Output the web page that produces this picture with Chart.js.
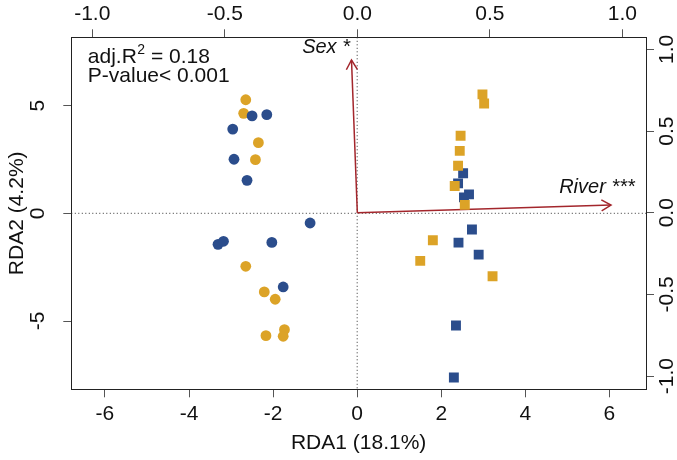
<!DOCTYPE html>
<html><head><meta charset="utf-8">
<script src="https://cdn.jsdelivr.net/npm/chart.js@4.4.1/dist/chart.umd.min.js"></script>
<style>html,body{margin:0;padding:0;background:#fff;} #c{display:block;}</style>
</head><body>
<canvas id="c" width="677" height="460"></canvas>
<script>
// ---- tick labels ----
const rda1Ticks = [-6, -4, -2, 0, 2, 4, 6];
const rda2Ticks = [-5, 0, 5];
const biplotXTicks = [-1.0, -0.5, 0.0, 0.5, 1.0];
const biplotYTicks = [-1.0, -0.5, 0.0, 0.5, 1.0];

// ---- site scores (RDA1, RDA2) ----
const blueCircles = [
  [-2.50, 4.52], [-2.15, 4.58], [-2.96, 3.91], [-2.93, 2.51], [-2.62, 1.53],
  [-1.12, -0.45], [-3.31, -1.44], [-3.18, -1.30], [-2.03, -1.35], [-1.76, -3.42]
];
const goldCircles = [
  [-2.65, 5.27], [-2.70, 4.64], [-2.35, 3.28], [-2.42, 2.49],
  [-2.65, -2.46], [-2.21, -3.65], [-1.95, -3.99], [-1.73, -5.40], [-1.76, -5.71], [-2.17, -5.68]
];
const goldSquares = [
  [2.98, 5.52], [3.02, 5.10], [2.46, 3.60], [2.44, 2.90], [2.40, 2.21],
  [2.32, 1.27], [2.56, 0.39], [1.80, -1.25], [1.50, -2.21], [3.22, -2.92]
];
const blueSquares = [
  [2.52, 1.86], [2.40, 1.39], [2.66, 0.88], [2.54, 0.74], [2.73, -0.75],
  [2.41, -1.36], [2.89, -1.92], [2.35, -5.21], [2.30, -7.62]
];

// ---- biplot arrows (top / right axis units) ----
const arrowNames = ['Sex *', 'River ***'];
const arrowTips = [[-0.022, 0.935], [0.957, 0.047]];
const arrowLabelAt = [[-0.118, 1.010], [0.904, 0.152]];

const statR2 = ['adj.R', '2', ' = 0.18'];
const statP = 'P-value< 0.001';

// ---- styles ----
const FONT = "'Liberation Sans', Arial, Helvetica, sans-serif";
const BLUE = '#2B4D8C';
const GOLD = '#DCA327';
const ARROW = '#A3262C';

const toPts = a => a.map(p => ({x: p[0], y: p[1]}));

function setTicks(list) { return s => { s.ticks = list.map(v => ({value: v})); }; }

const axisCommon = {
  type: 'linear',
  grid: {drawOnChartArea: false, drawTicks: true, tickLength: 8, tickColor: '#555', tickWidth: 1},
  border: {display: true, color: '#222', width: 1}
};

const plugin = {
  id: 'rdaExtras',
  beforeDatasetsDraw(chart) {
    const {ctx, chartArea: a, scales} = chart;
    ctx.save();
    ctx.strokeStyle = '#333';
    ctx.lineWidth = 1;
    ctx.setLineDash([1, 2.5]);
    const x0 = scales.x.getPixelForValue(0);
    const y0 = scales.y.getPixelForValue(0);
    ctx.beginPath();
    ctx.moveTo(x0, a.top); ctx.lineTo(x0, a.bottom);
    ctx.moveTo(a.left, y0); ctx.lineTo(a.right, y0);
    ctx.stroke();
    ctx.restore();
  },
  afterDraw(chart) {
    const {ctx, chartArea: a, scales} = chart;
    ctx.save();
    // rotated tick labels on vertical axes
    ctx.fillStyle = '#111';
    ctx.font = '21px ' + FONT;
    ctx.textAlign = 'center';
    ctx.textBaseline = 'middle';
    const drawV = (scale, x, fmt) => {
      scale.ticks.forEach(t => {
        const y = scale.getPixelForValue(t.value);
        ctx.save();
        ctx.translate(x, y);
        ctx.rotate(-Math.PI / 2);
        ctx.fillText(fmt(t.value), 0, 0);
        ctx.restore();
      });
    };
    drawV(scales.y, a.left - 33, v => String(v));
    drawV(scales.y2, a.right + 21, v => v.toFixed(1));

    // arrowheads
    ctx.strokeStyle = ARROW;
    ctx.lineWidth = 1.5;
    const sx = scales.x2, sy = scales.y2;
    arrowTips.forEach(tp => {
      const x0 = sx.getPixelForValue(0), y0 = sy.getPixelForValue(0);
      const x1 = sx.getPixelForValue(tp[0]), y1 = sy.getPixelForValue(tp[1]);
      const ang = Math.atan2(y1 - y0, x1 - x0);
      const L = 11, w = Math.PI / 6;
      ctx.beginPath();
      ctx.moveTo(x1 - L * Math.cos(ang - w), y1 - L * Math.sin(ang - w));
      ctx.lineTo(x1, y1);
      ctx.lineTo(x1 - L * Math.cos(ang + w), y1 - L * Math.sin(ang + w));
      ctx.stroke();
    });

    // arrow labels
    ctx.fillStyle = '#111';
    ctx.font = 'italic 20px ' + FONT;
    ctx.textAlign = 'center';
    ctx.textBaseline = 'middle';
    arrowNames.forEach((n, i) => {
      ctx.fillText(n, sx.getPixelForValue(arrowLabelAt[i][0]), sy.getPixelForValue(arrowLabelAt[i][1]));
    });

    // statistics text
    ctx.textAlign = 'left';
    ctx.textBaseline = 'alphabetic';
    let tx = a.left + 16.5, ty = a.top + 26;
    ctx.font = '21px ' + FONT;
    ctx.fillText(statR2[0], tx, ty);
    tx += ctx.measureText(statR2[0]).width;
    ctx.font = '14px ' + FONT;
    ctx.fillText(statR2[1], tx + 0.5, ty - 9);
    tx += ctx.measureText(statR2[1]).width + 0.5;
    ctx.font = '21px ' + FONT;
    ctx.fillText(statR2[2], tx, ty);
    ctx.fillText(statP, a.left + 16.5, ty + 19);
    ctx.restore();
  }
};

new Chart(document.getElementById('c'), {
  data: {
    datasets: [
      {type: 'scatter', data: toPts(blueCircles), xAxisID: 'x', yAxisID: 'y', pointStyle: 'circle', pointRadius: 5.4, backgroundColor: BLUE, borderColor: BLUE, borderWidth: 0},
      {type: 'scatter', data: toPts(goldCircles), xAxisID: 'x', yAxisID: 'y', pointStyle: 'circle', pointRadius: 5.4, backgroundColor: GOLD, borderColor: GOLD, borderWidth: 0},
      {type: 'scatter', data: toPts(goldSquares), xAxisID: 'x', yAxisID: 'y', pointStyle: 'rect', pointRadius: 7, backgroundColor: GOLD, borderColor: GOLD, borderWidth: 0},
      {type: 'scatter', data: toPts(blueSquares), xAxisID: 'x', yAxisID: 'y', pointStyle: 'rect', pointRadius: 7, backgroundColor: BLUE, borderColor: BLUE, borderWidth: 0},
      ...arrowTips.map(tp => ({type: 'line', data: [{x: 0, y: 0}, {x: tp[0], y: tp[1]}], xAxisID: 'x2', yAxisID: 'y2', borderColor: ARROW, borderWidth: 1.5, pointRadius: 0, fill: false, tension: 0}))
    ]
  },
  options: {
    responsive: false,
    animation: false,
    events: [],
    layout: {padding: 0},
    plugins: {legend: {display: false}, tooltip: {enabled: false}},
    scales: {
      x: {...axisCommon, position: 'bottom', min: -6.8, max: 6.87,
        afterBuildTicks: setTicks(rda1Ticks), afterFit: s => { s.height = 70.7; },
        ticks: {font: {family: FONT, size: 21, lineHeight: 1}, color: '#111', padding: 6, maxRotation: 0, autoSkip: false, callback: v => String(v)},
        title: {display: true, text: 'RDA1 (18.1%)', color: '#111', font: {family: FONT, size: 21, lineHeight: 1}, padding: 6.5}},
      x2: {...axisCommon, position: 'top', min: -1.079, max: 1.089,
        afterBuildTicks: setTicks(biplotXTicks), afterFit: s => { s.height = 37.3; },
        ticks: {font: {family: FONT, size: 21, lineHeight: 1}, color: '#111', padding: 4.5, maxRotation: 0, autoSkip: false, callback: v => v.toFixed(1)}},
      y: {...axisCommon, position: 'left', min: -8.17, max: 8.17,
        afterBuildTicks: setTicks(rda2Ticks), afterFit: s => { s.width = 71.3; },
        ticks: {display: false},
        title: {display: true, text: 'RDA2 (4.2%)', color: '#111', font: {family: FONT, size: 21, lineHeight: 1}, padding: 6.5}},
      y2: {...axisCommon, position: 'right', min: -1.081, max: 1.074,
        afterBuildTicks: setTicks(biplotYTicks), afterFit: s => { s.width = 31; },
        ticks: {display: false}}
    }
  },
  plugins: [plugin]
});
</script>
</body></html>
